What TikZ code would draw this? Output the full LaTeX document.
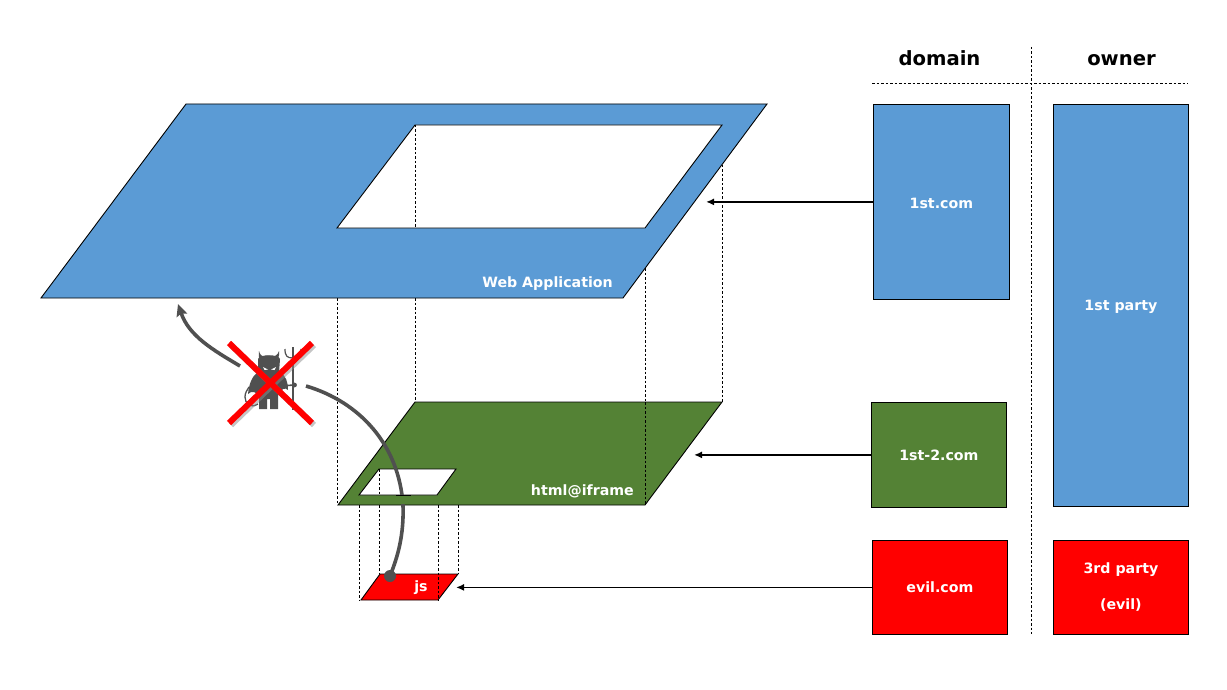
\documentclass[tikz,border=0pt]{standalone}
\usepackage{fontspec}
\setmainfont{DejaVu Sans}
\usetikzlibrary{arrows.meta}
\definecolor{appblue}{HTML}{5B9BD5}
\definecolor{framegreen}{HTML}{548235}
\definecolor{evilred}{HTML}{FF0000}
\definecolor{devilgrey}{HTML}{505050}
\tikzset{
  surface/.style={draw=black,line width=0.9pt},
  hole/.style={draw=black,fill=white,line width=0.9pt},
  guide/.style={draw=black,line width=0.7pt,dash pattern=on 2.5pt off 2pt},
  sidebox/.style={draw=black,line width=0.8pt,inner sep=0pt,text=white,font=\bfseries\fontsize{14.2}{17}\selectfont,align=center},
  heading/.style={font=\bfseries\fontsize{19.6}{24}\selectfont,text=black,anchor=base},
  layerlabel/.style={font=\bfseries\fontsize{14.2}{17}\selectfont,text=white,inner sep=0pt},
  pointer/.style={draw=black,line width=1.7pt,-{Latex[length=8pt,width=7pt]}},
  attack/.style={draw=devilgrey,line width=3.6pt},
  devilpart/.style={fill=devilgrey,draw=none},
  crossbar/.style={draw=evilred,line width=6pt},
  crossshadow/.style={draw=black!45,opacity=0.5,line width=6pt}
}
\begin{document}
\begin{tikzpicture}[x=1pt,y=-1pt]
\useasboundingbox (0,0) rectangle (1227,690);
\fill[white] (0,0) rectangle (1227,690);

% guides between the layers
\draw[guide] (415,298) -- (415,402);
\draw[guide] (722,165) -- (722,402);
\draw[guide] (645,268) -- (645,402);
\draw[guide] (337,298) -- (337,505);

% Web application
\path[surface,fill=appblue] (186,104) -- (767,104) -- (623,298) -- (41,298) -- cycle;
\path[hole] (415,125) -- (722,125) -- (645,228) -- (337,228) -- cycle;
\draw[guide] (415,125) -- (415,228);
\node[layerlabel,anchor=east] (weblabel) at (613,284) {Web Application};

% iframe
\path[surface,fill=framegreen] (415,402) -- (722,402) -- (645,505) -- (338,505) -- cycle;
\path[hole] (379,469) -- (456,469) -- (437,495) -- (359,495) -- cycle;
\draw[guide] (645,402) -- (645,505);
\draw[guide] (379.5,469) -- (379.5,495);
\node[layerlabel,anchor=east] (framelabel) at (634,491) {html@iframe};

% js
\path[surface,fill=evilred] (380,574) -- (458,574) -- (438,600) -- (361,600) -- cycle;
\draw[guide] (359.5,505) -- (359.5,600);
\draw[guide] (379.5,505) -- (379.5,574);
\draw[guide] (438,505) -- (438,600);
\draw[guide] (458,505) -- (458,574);
\node[layerlabel,anchor=center] (jslabel) at (421,588) {js};

% domain / owner table
\draw[guide] (872,83) -- (1188,83);
\draw[guide] (1031,47) -- (1031,634);
\node[heading] (domainhead) at (939.5,66) {domain};
\node[heading] (ownerhead) at (1121.5,66) {owner};

\node[sidebox,fill=appblue,minimum width=136pt,minimum height=195pt,anchor=north west,text height=12.4pt,text depth=0pt] (d1) at (873,104) {1st.com};
\node[sidebox,fill=framegreen,minimum width=135pt,minimum height=105pt,anchor=north west] (d2) at (871,402) {1st-2.com};
\node[sidebox,fill=evilred,minimum width=135pt,minimum height=94pt,anchor=north west] (d3) at (872,540) {evil.com};
\node[sidebox,fill=appblue,minimum width=135pt,minimum height=402pt,anchor=north west,text depth=0pt] (o1) at (1053,104) {1st party};
\node[sidebox,fill=evilred,minimum width=135pt,minimum height=94pt,anchor=north west,font=\bfseries\fontsize{14.2}{36}\selectfont] (o2) at (1053,540) {3rd party\\(evil)};

% pointers
\path (d1.west) ++(-167,0) coordinate (t1);
\path (d2.west) ++(-177,0) coordinate (t2);
\path (d3.west) ++(-416,0) coordinate (t3);
\draw[pointer] (d1.west) -- (t1);
\draw[pointer] (d2.west) -- (t2);
\draw[pointer] (d3.west) -- (t3);

% attack curves
\draw[attack] (306,386) .. controls (360,402) and (399,445) .. (403,505)
   .. controls (404,535) and (398,556) .. (390,576);
\fill[framegreen] (396,496) rectangle (411,504.3);
\draw[black,line width=0.9pt] (396,495) -- (411,495);
\fill[devilgrey] (390,576) circle (6);
\draw[attack,-{Stealth[length=12pt,width=11pt,inset=2pt]}] (240,366) .. controls (213,350) and (189,336) .. (178,304);

% devil
\fill[devilpart] (259,351) .. controls (258,358) and (260,361) .. (262,362) -- (274,362)
   .. controls (277,361) and (280,357) .. (279,351) .. controls (278,355) and (275,356) .. (273,357)
   .. controls (270,355) and (266,355) .. (264,357) .. controls (262,356) and (260,355) .. (259,351) -- cycle;
\fill[devilpart] (258,359) .. controls (259,354) and (279,354) .. (280,359) -- (279,373) -- (258,373) -- cycle;
\fill[devilpart] (258,372) -- (280,372) -- (283,385) -- (278,396) -- (278,409) -- (270,409) -- (270,399) -- (267,399) -- (267,409) -- (259,409) -- (259,396) -- (254,386) -- cycle;
\fill[devilpart] (258,372) .. controls (252,376) and (249,384) .. (248,394) .. controls (252,390) and (256,392) .. (259,396) -- cycle;
\fill[devilpart] (280,372) .. controls (286,376) and (288,382) .. (288,390) .. controls (285,387) and (281,389) .. (279,394) -- cycle;
\fill[white] (263,367) -- (268,369.5) -- (264.5,370) -- cycle;
\fill[white] (276,367) -- (271,369.5) -- (274.5,370) -- cycle;
\draw[devilgrey,line width=1.3pt] (258,404) .. controls (250,409) and (245,403) .. (245,397) .. controls (245,393) and (247,390) .. (249,387);
\draw[devilgrey,line width=1.6pt] (281,386) -- (294,385);
\fill[devilgrey] (294.5,385) circle (2.4);
\draw[devilgrey,line width=1.4pt] (293,347) -- (293,410);
\draw[devilgrey,line width=1.2pt] (285,349) .. controls (285,356) and (287,358) .. (293,358) .. controls (299,358) and (301,356) .. (301,349);

% red cross
\coordinate (xa) at (229,343);
\coordinate (xb) at (312,423);
\coordinate (xc) at (312,343);
\coordinate (xd) at (229,423);
\draw[crossshadow] ([shift={(2,2)}]xa) -- ([shift={(2,2)}]xb);
\draw[crossshadow] ([shift={(2,2)}]xc) -- ([shift={(2,2)}]xd);
\draw[crossbar] (xa) -- (xb);
\draw[crossbar] (xc) -- (xd);
\end{tikzpicture}
\end{document}
